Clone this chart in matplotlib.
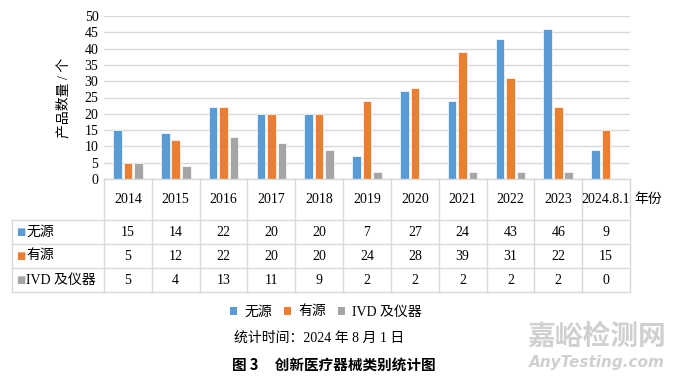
import matplotlib
matplotlib.use('Agg')
import matplotlib.pyplot as plt
import matplotlib.transforms as mtransforms
from matplotlib.lines import Line2D
from matplotlib.patches import Patch
import numpy as np

plt.rcParams['font.family'] = ['Liberation Serif', 'Noto Sans CJK SC', 'DejaVu Sans']

years = ['2014', '2015', '2016', '2017', '2018', '2019', '2020', '2021', '2022', '2023', '2024.8.1']
series_names = ['无源', '有源', 'IVD 及仪器']
wuyuan = [15, 14, 22, 20, 20, 7, 27, 24, 43, 46, 9]
youyuan = [5, 12, 22, 20, 20, 24, 28, 39, 31, 22, 15]
ivd = [5, 4, 13, 11, 9, 2, 2, 2, 2, 2, 0]
# the chart itself shows no grey bar for 2020, even though the table says 2
ivd_bars = [5, 4, 13, 11, 9, 2, 0, 2, 2, 2, 0]
colors = ['#5B9BD5', '#ED7D31', '#A5A5A5']

W, H = 680, 381
grid_c = '#D9D9D9'


def fy(y):
    # pixel row -> figure fraction
    return 1 - y / H


fig = plt.figure(figsize=(W / 100, H / 100), dpi=100)
ax = fig.add_axes([104 / W, fy(179), (630 - 104) / W, (179 - 16) / H])

x = np.arange(len(years))
step, bw = 0.22, 0.18
for i, (vals, c) in enumerate(zip([wuyuan, youyuan, ivd_bars], colors)):
    ax.bar(x + (i - 1) * step, vals, width=bw, color=c, edgecolor='white',
           linewidth=0.5, zorder=3)

ax.set_xlim(-0.5, len(years) - 0.5)
ax.set_ylim(0, 50)
ax.set_yticks(np.arange(0, 51, 5))
ax.set_xticks([])
ax.tick_params(axis='y', length=0, labelsize=10, pad=4)
for s in ax.spines.values():
    s.set_visible(False)
ax.yaxis.grid(True, color=grid_c, lw=1, zorder=0)
ax.set_ylabel('产品数量 / 个', fontsize=10, labelpad=10)

# data table under the axis
tr = mtransforms.blended_transform_factory(ax.transData, fig.transFigure)
left = -0.5 - (104 - 12) / ((630 - 104) / len(years))
right = len(years) - 0.5
rows_y = [179, 220, 244, 268, 292]


def hline(y, x0, x1):
    fig.add_artist(Line2D([x0, x1], [fy(y), fy(y)], transform=tr, color=grid_c, lw=1))


def vline(xv, y0, y1):
    fig.add_artist(Line2D([xv, xv], [fy(y0), fy(y1)], transform=tr, color=grid_c, lw=1))


hline(179, -0.5, right)
for y in rows_y[1:]:
    hline(y, left, right)
for k in range(len(years) + 1):
    vline(k - 0.5, 179, 292)
vline(left, 220, 292)

for k, yr in enumerate(years):
    fig.text(k, fy(199.5), yr, transform=tr, ha='center', va='center', fontsize=10)
fig.text(648 / W, fy(199.5), '年份', ha='center', va='center', fontsize=10)

for r, (name, vals, c) in enumerate(zip(series_names, [wuyuan, youyuan, ivd], colors)):
    yc = fy((rows_y[r + 1] + rows_y[r + 2]) / 2)
    fig.text(left + 0.09, yc, '■', transform=tr, ha='left', va='center',
             fontsize=7, color=c, family='DejaVu Sans')
    fig.text(left + 0.3, yc, name, transform=tr, ha='left', va='center', fontsize=10)
    for k, v in enumerate(vals):
        fig.text(k, yc, str(v), transform=tr, ha='center', va='center', fontsize=10)

handles = [Patch(facecolor=c, edgecolor='none') for c in colors]
fig.legend(handles, series_names, loc='center', bbox_to_anchor=(326 / W, fy(312)),
           ncol=3, frameon=False, fontsize=10, handlelength=0.5, handleheight=0.5,
           handletextpad=0.5, columnspacing=0.9)

fig.text(319 / W, fy(338), '统计时间：2024 年 8 月 1 日', ha='center', va='center', fontsize=10)
fig.text(334 / W, fy(365), '图 3     创新医疗器械类别统计图', ha='center', va='center',
         fontsize=10.5, fontweight='bold', family=['Noto Sans CJK SC', 'DejaVu Sans'])

# watermark
fig.text(597 / W, fy(337), '嘉峪检测网', ha='center', va='center', fontsize=20,
         fontweight='bold', color='#D0D0D0', family=['Noto Sans CJK SC'])
fig.text(597 / W, fy(362), 'AnyTesting.com', ha='center', va='center', fontsize=11,
         fontweight='bold', style='italic', color='#D0D0D0', family=['DejaVu Sans'])

fig.savefig('out.png', dpi=100)
